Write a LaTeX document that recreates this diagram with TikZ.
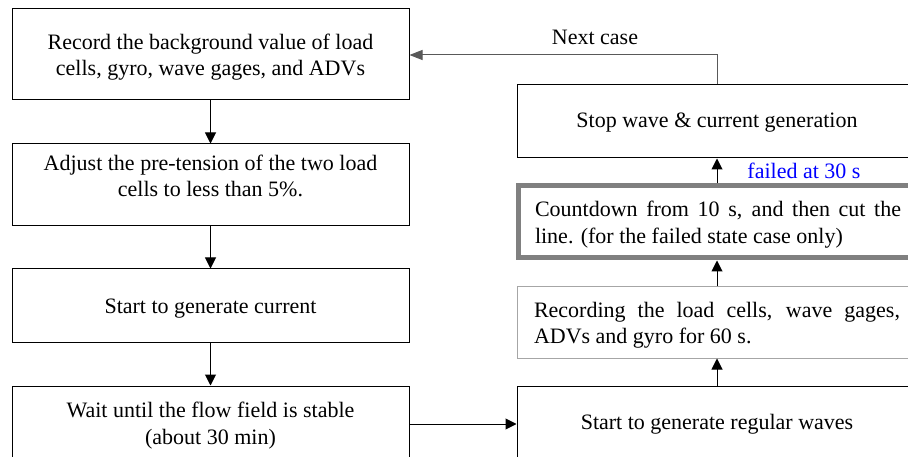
\documentclass[tikz,border=0pt]{standalone}
\usepackage{fontspec}
\setmainfont{Liberation Serif}
\usetikzlibrary{arrows.meta}
\definecolor{thickgray}{HTML}{808080}
\definecolor{lightgray2}{HTML}{A6A6A6}
\definecolor{linegray}{HTML}{595959}
\begin{document}
\begin{tikzpicture}[x=1pt,y=-1pt,
  every node/.style={font=\fontsize{22}{26.5}\selectfont, inner sep=0pt},
  leftbox/.style={draw=black, line width=1pt, minimum width=397pt, align=center},
  rightbox/.style={draw=black, line width=1pt, minimum width=400pt, align=center},
  justbox/.style={text width=366pt, inner xsep=17pt, align=justify},
  flow/.style={line width=1pt, -{Triangle[width=11pt,length=11pt]}},
  back/.style={draw=linegray, line width=1pt, -{Triangle[width=10pt,length=13pt]}}
]
\useasboundingbox (0,0) rectangle (908,457);
\clip (0,0) rectangle (908,457);
\fill[white] (0,0) rectangle (908,457);

\node[leftbox, minimum height=91pt, text height=48pt, text depth=5pt] (b1) at (210.5,54.5)
  {Record the background value of load\\cells, gyro, wave gages, and ADVs};
\node[leftbox, minimum height=82pt, text height=29pt, text depth=5pt] (b2) at (210.5,185)
  {Adjust the pre-tension of the two load\\cells to less than 5\%.};
\node[leftbox, minimum height=73pt, text height=20pt, text depth=5pt] (b3) at (210.5,305.5)
  {Start to generate current};
\node[leftbox, minimum height=76pt, text height=45pt, text depth=5pt] (b4) at (210.5,424)
  {Wait until the flow field is stable\\(about 30 min)};

\node[rightbox, minimum height=76pt, text height=15pt, text depth=5pt] (rw) at (717,424)
  {Start to generate regular waves};
\node[justbox, draw=lightgray2, line width=1pt, minimum height=71pt, text height=29pt, text depth=40pt] (rec) at (717,322.5)
  {Recording the load cells, wave gages,\linebreak ADVs and gyro for 60 s.};
\node[justbox, draw=thickgray, line width=5pt, minimum height=72pt, text height=30pt, text depth=40pt] (cd) at (718,222)
  {Countdown from 10 s, and then cut the\linebreak line. (for the failed state case only)};
\node[rightbox, minimum height=73pt, text height=18pt, text depth=5pt] (stop) at (717,121.5)
  {Stop wave \& current generation};

\draw[flow] (b1) -- (b2);
\draw[flow] (b2) -- (b3);
\draw[flow] (b3) -- (b4);
\draw[flow] (b4.east) -- (rw.west);
\draw[flow] (rw.north -| stop.south) -- (rec.south -| stop.south);
\draw[flow] (rec.north -| stop.south) -- (cd.south -| stop.south);
\draw[flow] (cd.north -| stop.south) -- (stop.south);

\coordinate (turn) at (717,55);
\draw[back] (stop.north) -- (turn) -- (turn -| b1.east);

\node[anchor=base] (nc) at (595,45) {Next case};
\node[anchor=base, text=blue] (fl) at (804,179) {failed at 30 s};
\end{tikzpicture}
\end{document}
